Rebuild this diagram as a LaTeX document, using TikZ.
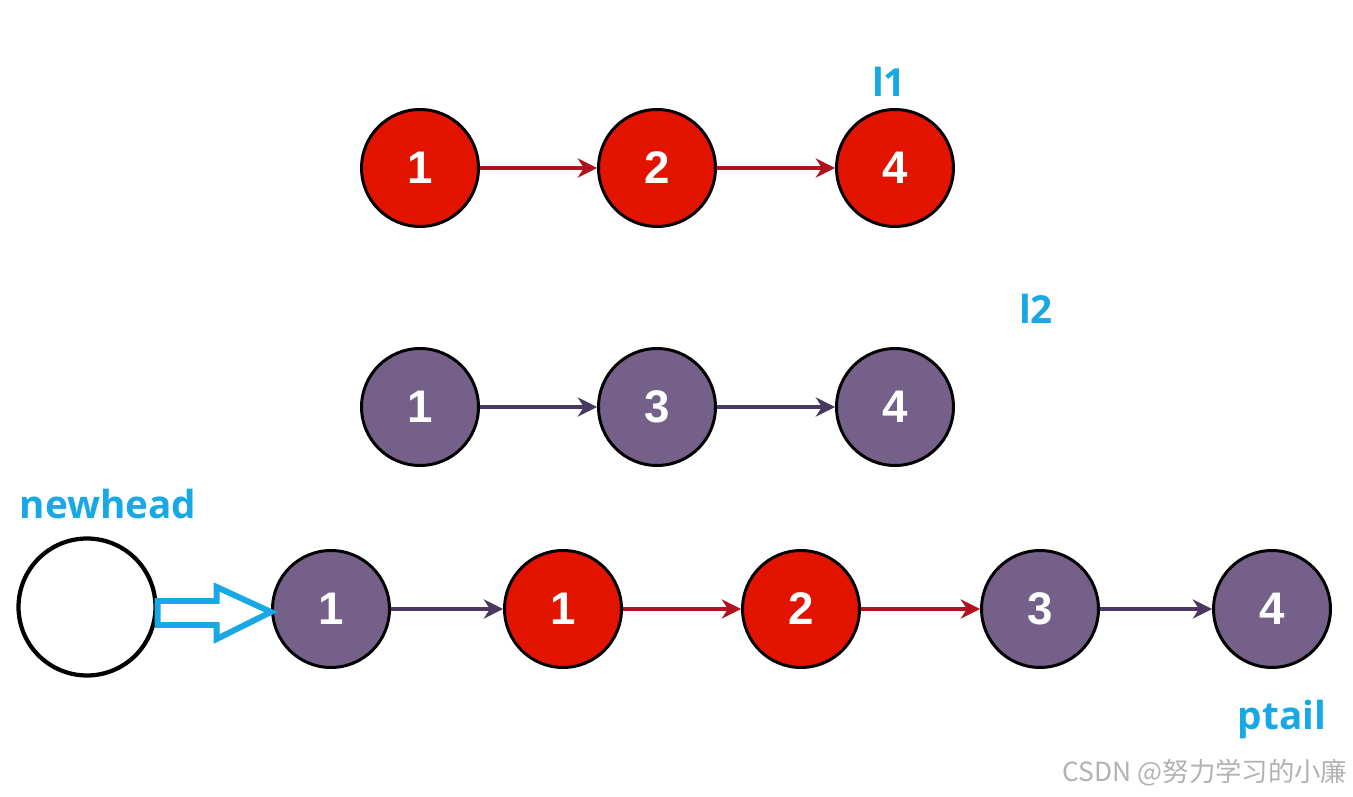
\documentclass[tikz,border=0pt]{standalone}
\usepackage{fontspec}
\setmainfont{Liberation Sans}
\newfontfamily\labelfont{Open Sans}
\newfontfamily\cjk{Noto Sans CJK SC}
\definecolor{nodered}{RGB}{226, 20, 0}
\definecolor{nodepurple}{RGB}{116, 96, 136}
\definecolor{arrowred}{RGB}{176, 18, 32}
\definecolor{arrowpurple}{RGB}{74, 56, 98}
\definecolor{labelblue}{RGB}{24, 168, 230}
\usetikzlibrary{positioning,shapes,arrows.meta,calc}

\begin{document}
\begin{tikzpicture}[x=0.02cm, y=-0.02cm,
    listnode/.style={draw=black, circle, line width=1.7pt, minimum size=2.34cm,
        inner sep=0pt, text=white, font=\fontsize{26}{26}\selectfont\bfseries},
    rednode/.style={listnode, fill=nodered},
    purplenode/.style={listnode, fill=nodepurple},
    redlink/.style={draw=arrowred, line width=1.8pt, -{Stealth[length=11pt, width=11pt]}},
    purplelink/.style={draw=arrowpurple, line width=1.8pt, -{Stealth[length=11pt, width=11pt]}},
    tag/.style={text=labelblue, font=\labelfont\fontsize{22}{22}\selectfont\bfseries}]
    \useasboundingbox (0,0) rectangle (1353,797);

    % l1
    \node[rednode] (a1) at (420,168) {1};
    \node[rednode] (a2) at (657,168) {2};
    \node[rednode] (a4) at (895,168) {4};
    \draw[redlink] (a1) -- (a2);
    \draw[redlink] (a2) -- (a4);
    \node[tag] (l1) at (889,82) {l1};

    % l2
    \node[purplenode] (b1) at (420,407) {1};
    \node[purplenode] (b3) at (657,407) {3};
    \node[purplenode] (b4) at (895,407) {4};
    \draw[purplelink] (b1) -- (b3);
    \draw[purplelink] (b3) -- (b4);
    \node[tag] (l2) at (1036,309) {l2};

    % merged list
    \node[draw=black, circle, line width=2.4pt, minimum size=2.74cm] (nh) at (87,607) {};
    \node[tag] (newhead) at (108,504) {newhead};
    \node[purplenode] (m1) at (331,609) {1};
    \node[rednode] (m2) at (563,609) {1};
    \node[rednode] (m3) at (801,609) {2};
    \node[purplenode] (m4) at (1040,609) {3};
    \node[purplenode] (m5) at (1272,609) {4};
    \draw[purplelink] (m1) -- (m2);
    \draw[redlink] (m2) -- (m3);
    \draw[redlink] (m3) -- (m4);
    \draw[purplelink] (m4) -- (m5);
    \node[tag] (ptail) at (1282,719) {ptail};

    % hollow arrow newhead -> first node
    \draw[labelblue, line width=3.4pt, line join=miter]
        ($(nh.east)+(0,-6)$) -- ($(nh.east)+(59,-6)$) -- ($(nh.east)+(59,-20)$)
        -- ($(m1.west)+(0,3)$) -- ($(nh.east)+(59,32)$) -- ($(nh.east)+(59,18)$)
        -- ($(nh.east)+(0,18)$) -- cycle;

    \node[text=black!30, font=\cjk\fontsize{15}{15}\selectfont] (mark) at (1205,773) {CSDN @努力学习的小廉};
\end{tikzpicture}
\end{document}
